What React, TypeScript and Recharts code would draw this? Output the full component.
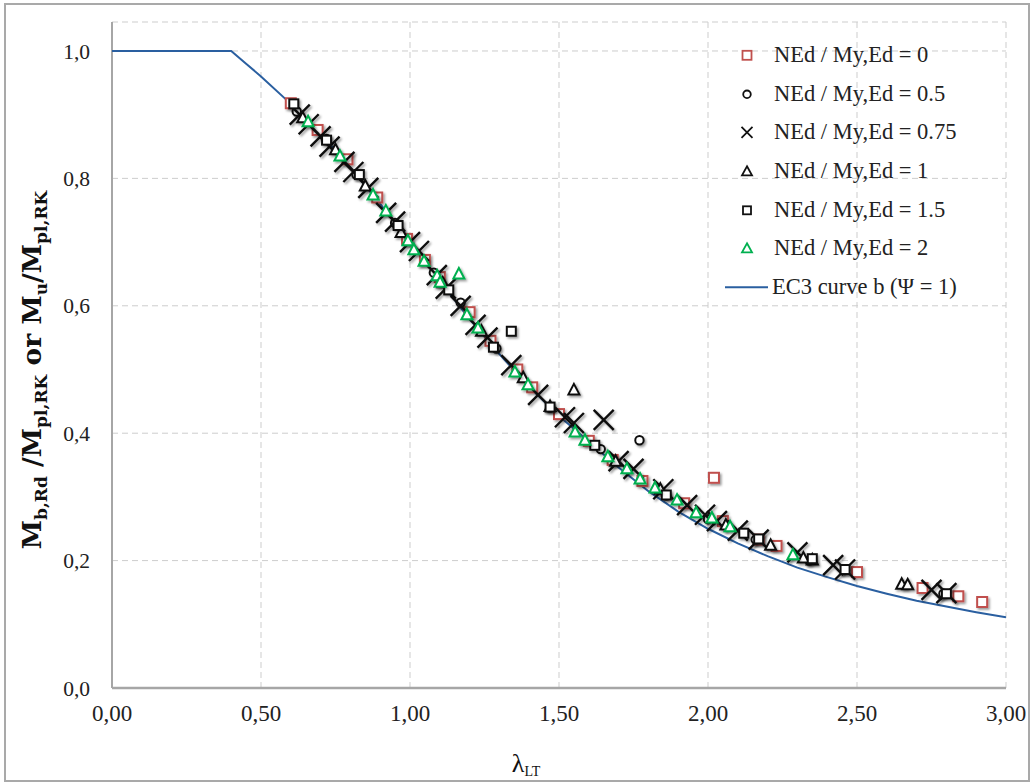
import React from 'react';
import { ScatterChart, Scatter, XAxis, YAxis, CartesianGrid } from 'recharts';

const xTicks = [0, 0.5, 1, 1.5, 2, 2.5, 3];
const xTickLabels = ['0,00', '0,50', '1,00', '1,50', '2,00', '2,50', '3,00'];
const yTicks = [0, 0.2, 0.4, 0.6, 0.8, 1.0];
const yTickLabels = ['0,0', '0,2', '0,4', '0,6', '0,8', '1,0'];

const seriesNames = [
  'NEd / My,Ed = 0',
  'NEd / My,Ed = 0.5',
  'NEd / My,Ed = 0.75',
  'NEd / My,Ed = 1',
  'NEd / My,Ed = 1.5',
  'NEd / My,Ed = 2',
  'EC3 curve b (\u03A8 = 1)',
];

// EC3 curve b
const curveB = [
  { x: 0.0, y: 1.0 }, { x: 0.2, y: 1.0 }, { x: 0.4, y: 1.0 }, { x: 0.45, y: 0.980 },
  { x: 0.5, y: 0.960 }, { x: 0.6, y: 0.917 }, { x: 0.7, y: 0.870 }, { x: 0.8, y: 0.817 },
  { x: 0.9, y: 0.760 }, { x: 1.0, y: 0.700 }, { x: 1.1, y: 0.639 }, { x: 1.2, y: 0.579 },
  { x: 1.3, y: 0.524 }, { x: 1.4, y: 0.473 }, { x: 1.5, y: 0.427 }, { x: 1.6, y: 0.387 },
  { x: 1.7, y: 0.346 }, { x: 1.8, y: 0.309 }, { x: 1.9, y: 0.277 }, { x: 2.0, y: 0.250 },
  { x: 2.1, y: 0.227 }, { x: 2.2, y: 0.207 }, { x: 2.3, y: 0.189 }, { x: 2.4, y: 0.174 },
  { x: 2.5, y: 0.160 }, { x: 2.6, y: 0.148 }, { x: 2.7, y: 0.137 }, { x: 2.8, y: 0.128 },
  { x: 2.9, y: 0.119 }, { x: 3.0, y: 0.111 },
];

const ratio0 = [
  { x: 0.60, y: 0.918 }, { x: 0.69, y: 0.876 }, { x: 0.79, y: 0.830 }, { x: 0.89, y: 0.770 },
  { x: 0.99, y: 0.705 }, { x: 1.05, y: 0.672 }, { x: 1.10, y: 0.645 }, { x: 1.20, y: 0.590 },
  { x: 1.27, y: 0.545 }, { x: 1.36, y: 0.500 }, { x: 1.41, y: 0.472 }, { x: 1.50, y: 0.430 },
  { x: 1.60, y: 0.388 }, { x: 1.68, y: 0.358 }, { x: 1.78, y: 0.325 }, { x: 1.92, y: 0.290 },
  { x: 2.02, y: 0.330 }, { x: 2.05, y: 0.262 }, { x: 2.17, y: 0.233 }, { x: 2.23, y: 0.223 },
  { x: 2.50, y: 0.182 }, { x: 2.72, y: 0.157 }, { x: 2.84, y: 0.144 }, { x: 2.92, y: 0.135 },
];

const ratio05 = [
  { x: 0.62, y: 0.905 }, { x: 0.72, y: 0.862 }, { x: 0.82, y: 0.806 }, { x: 0.95, y: 0.730 },
  { x: 1.08, y: 0.652 }, { x: 1.17, y: 0.605 }, { x: 1.29, y: 0.533 }, { x: 1.47, y: 0.440 },
  { x: 1.64, y: 0.375 }, { x: 1.77, y: 0.389 }, { x: 1.86, y: 0.302 }, { x: 2.00, y: 0.265 },
  { x: 2.16, y: 0.233 }, { x: 2.34, y: 0.200 }, { x: 2.46, y: 0.185 }, { x: 2.79, y: 0.148 },
];

const ratio075 = [
  { x: 0.63, y: 0.900 }, { x: 0.66, y: 0.885 }, { x: 0.70, y: 0.866 }, { x: 0.73, y: 0.850 },
  { x: 0.78, y: 0.826 }, { x: 0.81, y: 0.810 }, { x: 0.86, y: 0.785 }, { x: 0.92, y: 0.746 },
  { x: 0.95, y: 0.732 }, { x: 1.00, y: 0.700 }, { x: 1.03, y: 0.686 }, { x: 1.09, y: 0.648 },
  { x: 1.12, y: 0.627 }, { x: 1.17, y: 0.600 }, { x: 1.22, y: 0.570 }, { x: 1.26, y: 0.550 },
  { x: 1.34, y: 0.507 }, { x: 1.43, y: 0.460 }, { x: 1.52, y: 0.425 }, { x: 1.55, y: 0.416 },
  { x: 1.65, y: 0.421 }, { x: 1.70, y: 0.356 }, { x: 1.75, y: 0.344 }, { x: 1.85, y: 0.312 },
  { x: 1.93, y: 0.287 }, { x: 1.99, y: 0.272 }, { x: 2.03, y: 0.262 }, { x: 2.10, y: 0.247 },
  { x: 2.17, y: 0.233 }, { x: 2.30, y: 0.213 }, { x: 2.42, y: 0.193 }, { x: 2.46, y: 0.186 },
  { x: 2.75, y: 0.154 }, { x: 2.80, y: 0.149 },
];

const ratio1 = [
  { x: 0.64, y: 0.895 }, { x: 0.75, y: 0.845 }, { x: 0.85, y: 0.788 }, { x: 0.97, y: 0.715 },
  { x: 1.11, y: 0.636 }, { x: 1.24, y: 0.560 }, { x: 1.38, y: 0.487 }, { x: 1.47, y: 0.442 },
  { x: 1.55, y: 0.468 }, { x: 1.69, y: 0.356 }, { x: 1.84, y: 0.312 }, { x: 2.06, y: 0.256 },
  { x: 2.21, y: 0.224 }, { x: 2.32, y: 0.204 }, { x: 2.35, y: 0.201 }, { x: 2.65, y: 0.163 },
  { x: 2.67, y: 0.162 },
];

const ratio15 = [
  { x: 0.61, y: 0.917 }, { x: 0.72, y: 0.860 }, { x: 0.83, y: 0.806 }, { x: 0.96, y: 0.726 },
  { x: 1.13, y: 0.625 }, { x: 1.28, y: 0.535 }, { x: 1.34, y: 0.560 }, { x: 1.47, y: 0.441 },
  { x: 1.62, y: 0.381 }, { x: 1.86, y: 0.303 }, { x: 2.12, y: 0.243 }, { x: 2.17, y: 0.234 },
  { x: 2.35, y: 0.203 }, { x: 2.46, y: 0.186 }, { x: 2.80, y: 0.148 },
];

const ratio2 = [
  { x: 0.658, y: 0.889 }, { x: 0.765, y: 0.835 }, { x: 0.876, y: 0.774 }, { x: 0.919, y: 0.749 },
  { x: 0.993, y: 0.702 }, { x: 1.013, y: 0.688 }, { x: 1.047, y: 0.670 }, { x: 1.091, y: 0.647 },
  { x: 1.101, y: 0.637 }, { x: 1.164, y: 0.650 }, { x: 1.191, y: 0.586 }, { x: 1.228, y: 0.565 },
  { x: 1.352, y: 0.496 }, { x: 1.396, y: 0.476 }, { x: 1.554, y: 0.402 }, { x: 1.587, y: 0.389 },
  { x: 1.664, y: 0.363 }, { x: 1.728, y: 0.344 }, { x: 1.772, y: 0.328 }, { x: 1.822, y: 0.314 },
  { x: 1.896, y: 0.295 }, { x: 1.960, y: 0.275 }, { x: 2.013, y: 0.267 }, { x: 2.074, y: 0.253 },
  { x: 2.285, y: 0.209 },
];

const RED = '#c0504d';
const GREEN = '#00b050';
const BLUE = '#2a5fa0';
const INK = '#111';
const FONT = '"Liberation Serif", "DejaVu Serif", serif';
const TITLE_FONT = '"DejaVu Serif", "Liberation Serif", serif';

const SH = 'url(#mshadow)';

const RedSquare = (p: any) => (
  <rect x={p.cx - 5} y={p.cy - 5} width={10} height={10} fill="#fff" stroke={RED} strokeWidth={2} filter={SH} />
);
const BlackCircle = (p: any) => (
  <circle cx={p.cx} cy={p.cy} r={4.2} fill="#fff" stroke={INK} strokeWidth={2} filter={SH} />
);
const BigCross = (p: any) => (
  <path d={`M${p.cx - 10},${p.cy - 10}L${p.cx + 10},${p.cy + 10}M${p.cx - 10},${p.cy + 10}L${p.cx + 10},${p.cy - 10}`}
    stroke={INK} strokeWidth={2.4} fill="none" filter={SH} />
);
const BlackTriangle = (p: any) => (
  <path d={`M${p.cx},${p.cy - 6}L${p.cx + 5.5},${p.cy + 4.5}L${p.cx - 5.5},${p.cy + 4.5}Z`}
    stroke={INK} strokeWidth={2} fill="#fff" filter={SH} />
);
const BlackSquare = (p: any) => (
  <rect x={p.cx - 4.5} y={p.cy - 4.5} width={9} height={9} fill="#fff" stroke={INK} strokeWidth={2} filter={SH} />
);
const GreenTriangle = (p: any) => (
  <path d={`M${p.cx},${p.cy - 6}L${p.cx + 5.5},${p.cy + 4.5}L${p.cx - 5.5},${p.cy + 4.5}Z`}
    stroke={GREEN} strokeWidth={2} fill="#fff" filter={SH} />
);
const NoDot = () => <g />;

const YTitle = () => (
  <text
    transform="translate(41,370) rotate(-90)"
    textAnchor="middle"
    fontFamily={TITLE_FONT}
    fontWeight="bold"
    fontSize={26.5}
    fill="#111"
  >
    <tspan>M</tspan>
    <tspan fontSize={17} dy={6}>b,Rd</tspan>
    <tspan dy={-6}> /M</tspan>
    <tspan fontSize={17} dy={6}>pl,RK</tspan>
    <tspan dy={-6}> or  M</tspan>
    <tspan fontSize={17} dy={6}>u</tspan>
    <tspan dy={-6}>/M</tspan>
    <tspan fontSize={17} dy={6}>pl,RK</tspan>
  </text>
);

const XTitle = () => (
  <text x={526} y={772} textAnchor="middle" fontFamily={FONT} fontSize={26} fill="#111">
    <tspan>{'\u03BB'}</tspan>
    <tspan fontSize={14} dy={4}>LT</tspan>
  </text>
);

const legendRows = [
  (cx: number, cy: number) => <rect x={cx - 4.5} y={cy - 4.5} width={9} height={9} fill="#fff" stroke={RED} strokeWidth={1.8} />,
  (cx: number, cy: number) => <circle cx={cx} cy={cy} r={3.8} fill="#fff" stroke={INK} strokeWidth={1.8} />,
  (cx: number, cy: number) => (
    <path d={`M${cx - 5.5},${cy - 5.5}L${cx + 5.5},${cy + 5.5}M${cx - 5.5},${cy + 5.5}L${cx + 5.5},${cy - 5.5}`} stroke={INK} strokeWidth={1.8} />
  ),
  (cx: number, cy: number) => <path d={`M${cx},${cy - 5}L${cx + 5},${cy + 4}L${cx - 5},${cy + 4}Z`} stroke={INK} strokeWidth={1.8} fill="#fff" />,
  (cx: number, cy: number) => <rect x={cx - 4} y={cy - 4} width={8} height={8} fill="#fff" stroke={INK} strokeWidth={1.8} />,
  (cx: number, cy: number) => <path d={`M${cx},${cy - 5}L${cx + 5},${cy + 4}L${cx - 5},${cy + 4}Z`} stroke={GREEN} strokeWidth={1.8} fill="#fff" />,
  (cx: number, cy: number) => <line x1={cx - 22} y1={cy} x2={cx + 21} y2={cy} stroke={BLUE} strokeWidth={2} />,
];

const LegendBox = () => (
  <div style={{ position: 'absolute', left: 715, top: 36, width: 310 }}>
    {seriesNames.map((name, i) => (
      <div key={name} style={{ position: 'relative', height: 38.7 }}>
        <svg width={60} height={38.7} style={{ position: 'absolute', left: 0, top: 0 }}>
          {legendRows[i](32, 19.3)}
        </svg>
        <span
          style={{
            position: 'absolute',
            left: i === 6 ? 57 : 59,
            top: 0,
            lineHeight: '38.7px',
            fontFamily: FONT,
            fontSize: 22.5,
            color: '#222',
            whiteSpace: 'nowrap',
          }}
        >
          {name}
        </span>
      </div>
    ))}
  </div>
);

export default function App() {
  return (
    <div style={{ position: 'absolute', left: 0, top: 0, width: 1035, height: 784, background: '#fff', overflow: 'hidden' }}>
      <div
        style={{
          position: 'absolute', left: 4, top: 3, width: 1026, height: 779,
          border: '2px solid #a9a9a9', boxSizing: 'border-box',
        }}
      />
      <div style={{ position: 'absolute', left: 0, top: 0 }}>
        <ScatterChart width={1035} height={784} margin={{ top: 22, right: 29, bottom: 0, left: 0 }}>
          <defs>
            <filter id="mshadow" x="-50%" y="-50%" width="200%" height="200%">
              <feDropShadow dx={1.6} dy={1.8} stdDeviation={1.2} floodColor="#000" floodOpacity={0.4} />
            </filter>
          </defs>
          <CartesianGrid stroke="#cdcdcd" strokeDasharray="6 4" strokeWidth={1} />
          <XAxis
            type="number"
            dataKey="x"
            domain={[0, 3]}
            ticks={xTicks}
            allowDataOverflow
            height={96}
            tickSize={0}
            tickMargin={17}
            tickLine={false}
            tickFormatter={(v: number) => xTickLabels[xTicks.indexOf(v)]}
            axisLine={{ stroke: '#a6a6a6', strokeWidth: 2.5 }}
            tick={{ fontFamily: FONT, fontSize: 23, fill: '#222' }}
            label={<XTitle />}
          />
          <YAxis
            type="number"
            dataKey="y"
            domain={[0, 1.0455]}
            ticks={yTicks}
            allowDataOverflow
            width={112}
            tickSize={0}
            tickMargin={22}
            tickLine={false}
            tickFormatter={(v: number) => yTickLabels[yTicks.indexOf(v)]}
            axisLine={{ stroke: '#a6a6a6', strokeWidth: 2 }}
            tick={{ fontFamily: FONT, fontSize: 21.5, fill: '#222' }}
            label={<YTitle />}
          />
          <Scatter
            name={seriesNames[6]}
            data={curveB}
            fill={BLUE}
            line={{ stroke: BLUE, strokeWidth: 2 }}
            lineType="joint"
            shape={NoDot}
            isAnimationActive={false}
          />
          <Scatter name={seriesNames[0]} data={ratio0} shape={RedSquare} isAnimationActive={false} />
          <Scatter name={seriesNames[1]} data={ratio05} shape={BlackCircle} isAnimationActive={false} />
          <Scatter name={seriesNames[2]} data={ratio075} shape={BigCross} isAnimationActive={false} />
          <Scatter name={seriesNames[3]} data={ratio1} shape={BlackTriangle} isAnimationActive={false} />
          <Scatter name={seriesNames[4]} data={ratio15} shape={BlackSquare} isAnimationActive={false} />
          <Scatter name={seriesNames[5]} data={ratio2} shape={GreenTriangle} isAnimationActive={false} />
        </ScatterChart>
      </div>
      <LegendBox />
    </div>
  );
}
